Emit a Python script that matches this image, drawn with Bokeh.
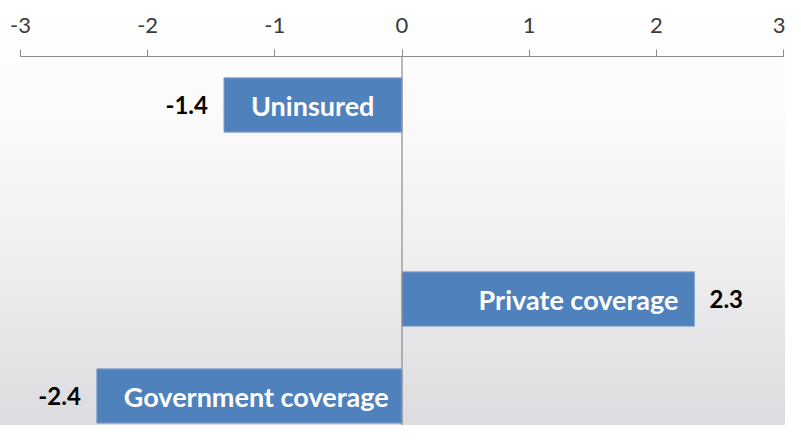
from bokeh.plotting import figure
from bokeh.models import ColumnDataSource, Range1d, Span, FixedTicker
from bokeh.core.properties import value
from bokeh.embed import file_html
from bokeh.resources import INLINE

# ---- data ----
categories = ["Uninsured", "", "Private coverage", "Government coverage"]
values = [-1.4, None, 2.3, -2.4]
tick_values = [-3, -2, -1, 0, 1, 2, 3]

# ---- build source (skip empty category) ----
ys, xs, names, vlabels = [], [], [], []
cat_align, cat_off, val_align, val_off = [], [], [], []
for i, (c, v) in enumerate(zip(categories, values)):
    if v is None:
        continue
    ys.append(i)
    xs.append(v)
    names.append(c)
    vlabels.append(f"{v:.1f}")
    if v < 0:
        cat_align.append("left"); cat_off.append(27)
        val_align.append("right"); val_off.append(-16)
    else:
        cat_align.append("right"); cat_off.append(-16)
        val_align.append("left"); val_off.append(15)

src = ColumnDataSource(dict(y=ys, x=xs, name=names, vlabel=vlabels,
                            cat_align=cat_align, cat_off=cat_off,
                            val_align=val_align, val_off=val_off))

W, H = 785, 425
top_px = 56
band_px = 97
frame_h = H - top_px
y_bottom = -0.5 + frame_h / band_px

p = figure(width=W, height=H, output_backend="svg", toolbar_location=None,
           x_range=Range1d(tick_values[0], tick_values[-1]),
           y_range=Range1d(y_bottom, -0.5),
           x_axis_location="above", y_axis_location=None,
           min_border_left=20, min_border_right=2, min_border_top=top_px,
           min_border_bottom=0, outline_line_color=None)

p.background_fill_color = None
p.border_fill_color = None
p.styles = {"background": "linear-gradient(to bottom, #ffffff 0%, #fbfbfb 25%, #f1f1f1 55%, #dcdce0 100%)"}

p.grid.visible = False

ax = p.xaxis[0]
ax.ticker = FixedTicker(ticks=tick_values)
ax.major_label_overrides = {t: str(t) for t in tick_values}
ax.axis_line_color = "#8c8c8c"
ax.major_tick_line_color = "#8c8c8c"
ax.major_tick_out = 7
ax.major_tick_in = 0
ax.minor_tick_line_color = None
ax.major_label_text_font = "Lato"
ax.major_label_text_font_size = "22px"
ax.major_label_text_color = "#3a3a3a"
ax.major_label_standoff = 17

p.hbar(y="y", right="x", left=0, height=0.56, source=src,
       fill_color="#4f81bd", line_color="#8ea5c8", line_width=1)

p.add_layout(Span(location=0, dimension="height", line_color="#8c8c8c", line_width=1.2))

p.text(x="x", y="y", text="name", source=src, text_align="cat_align",
       x_offset="cat_off", text_baseline="middle", text_color="white",
       text_font=value("Lato"), text_font_style="bold", text_font_size="27px")

p.text(x="x", y="y", text="vlabel", source=src, text_align="val_align",
       x_offset="val_off", text_baseline="middle", text_color="black",
       text_font=value("Lato"), text_font_style="bold", text_font_size="24px")

open("out.html", "w").write(file_html(p, INLINE))
